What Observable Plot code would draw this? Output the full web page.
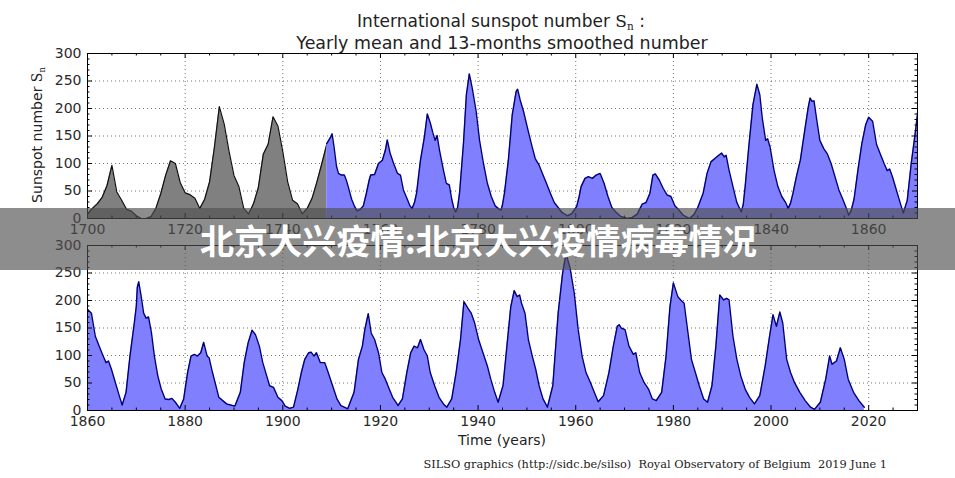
<!DOCTYPE html>
<html><head><meta charset="utf-8">
<script src="https://cdn.jsdelivr.net/npm/d3@7"></script>
<script src="https://cdn.jsdelivr.net/npm/@observablehq/plot@0.6"></script>
<style>
html,body{margin:0;padding:0;background:#fff;}
#chart{position:relative;width:955px;height:478px;overflow:hidden;background:#fff;}
#chart > svg{position:absolute;left:0;}
</style></head><body><div id="chart"></div>
<script>
// Yearly mean sunspot number (grey), 1700-1749
const grayYears = [1700,1701,1702,1703,1704,1705,1706,1707,1708,1709,1710,1711,1712,1713,1714,1715,1716,1717,1718,1719,
  1720,1721,1722,1723,1724,1725,1726,1727,1728,1729,1730,1731,1732,1733,1734,1735,1736,1737,1738,1739,
  1740,1741,1742,1743,1744,1745,1746,1747,1748,1749];
const grayValues = [8.3,18.3,26.7,38.3,60.0,96.7,48.3,33.3,16.7,13.3,5.0,0.0,0.0,3.3,18.3,45.0,78.3,105.0,100.0,65.0,
  46.7,43.3,36.7,18.3,35.0,66.7,130.0,203.3,171.7,121.7,78.3,58.3,18.3,8.3,26.7,56.7,116.7,135.0,185.0,168.3,
  121.7,66.7,33.3,26.7,8.3,18.3,36.7,66.7,100.0,134.8];

// 13-month smoothed monthly sunspot number (blue)
const blueTimes = [1749.0,1749.8,1750.1,1750.5,1751.0,1751.4,1752.0,1752.6,1753.0,1753.4,1754.1,1754.6,1755.2,1755.8,1756.5,1757.1,1757.7,1758.0,1758.8,1759.6,
  1760.4,1761.0,1761.4,1762.0,1762.7,1763.5,1764.1,1764.7,1765.5,1766.0,1766.5,1767.0,1767.4,1768.2,1769.0,1769.6,1770.2,1770.7,1771.2,1771.6,
  1772.1,1772.9,1773.5,1774.1,1774.6,1775.0,1775.4,1775.8,1776.2,1777.0,1777.6,1778.2,1778.8,1779.6,1780.3,1781.1,1781.9,1782.7,1783.5,1784.3,
  1784.7,1785.0,1785.4,1786.2,1787.0,1787.8,1788.1,1788.6,1789.3,1790.1,1790.9,1791.7,1792.5,1793.3,1794.0,1794.8,1795.6,1796.4,1797.2,1798.3,
  1799.2,1800.2,1800.7,1801.1,1801.9,1802.6,1803.4,1804.2,1805.0,1805.8,1806.6,1807.4,1808.2,1809.2,1810.6,1811.6,1812.6,1813.6,1814.4,1815.2,
  1815.8,1816.3,1817.1,1817.9,1818.7,1819.5,1820.3,1821.0,1822.0,1823.3,1824.2,1825.0,1826.1,1826.9,1827.7,1828.5,1829.3,1829.9,1830.4,1830.8,
  1831.4,1832.2,1833.0,1833.9,1834.3,1834.7,1835.5,1836.3,1837.1,1837.7,1838.2,1838.9,1839.3,1839.8,1840.6,1841.4,1842.2,1843.0,1843.5,1844.0,
  1844.5,1845.2,1846.0,1846.8,1847.6,1848.0,1848.4,1848.8,1849.4,1850.0,1850.8,1851.5,1852.3,1853.1,1853.9,1854.7,1855.5,1855.9,1856.4,1857.0,
  1857.8,1858.6,1859.4,1860.0,1860.8,1861.6,1862.4,1863.2,1863.8,1864.3,1864.9,1865.7,1866.5,1867.1,1867.9,1868.7,1869.6,1870.0,1870.2,1870.5,1871.0,
  1871.5,1872.0,1872.5,1873.1,1873.7,1874.4,1875.1,1875.9,1876.7,1877.3,1878.0,1878.9,1879.7,1880.5,1881.2,1881.9,1882.5,1883.2,1883.8,1884.5,
  1884.9,1885.6,1886.3,1886.9,1887.7,1888.5,1889.3,1890.2,1891.3,1892.1,1892.9,1893.7,1894.4,1895.2,1895.9,1896.7,1897.3,1898.1,1899.0,1899.8,
  1900.5,1901.4,1902.2,1903.1,1903.8,1904.5,1905.3,1905.8,1906.4,1906.9,1907.7,1908.6,1909.3,1910.2,1911.1,1911.9,1912.6,1913.3,1914.6,1915.5,
  1916.3,1916.8,1917.5,1918.1,1918.8,1919.6,1920.3,1921.0,1921.8,1922.5,1923.4,1923.6,1924.5,1925.4,1926.2,1926.9,1927.6,1928.2,1928.9,1929.6,
  1930.2,1931.1,1932.0,1932.9,1933.6,1934.6,1935.5,1936.4,1937.1,1937.9,1938.6,1939.3,1940.1,1941.0,1941.9,1942.6,1943.4,1944.1,1945.1,1945.9,
  1946.7,1947.4,1948.0,1948.5,1948.9,1949.6,1950.3,1951.1,1951.8,1952.5,1953.3,1954.2,1955.3,1956.4,1957.3,1958.0,1958.8,1959.7,1960.5,1961.3,
  1962.1,1963.0,1963.8,1964.6,1965.7,1966.8,1967.7,1968.5,1968.9,1969.3,1970.1,1970.9,1971.8,1972.3,1973.1,1974.0,1974.9,1975.7,1976.5,1977.6,
  1978.5,1979.3,1980.0,1980.9,1981.5,1982.2,1982.9,1983.7,1984.5,1985.3,1986.2,1987.0,1987.9,1988.7,1989.5,1990.3,1990.9,1991.4,1992.2,1993.0,
  1993.8,1994.7,1995.6,1996.6,1997.7,1998.8,1999.7,2000.4,2001.1,2001.8,2002.4,2003.2,2004.0,2004.8,2005.9,2007.0,2008.1,2008.9,2010.1,2011.2,
  2012.0,2012.5,2013.4,2014.2,2015.0,2015.8,2016.9,2018.0,2019.1];
const blueValues = [136,148,154,130,95,82,79,79,70,58,35,24,14,16,23,45,70,79,80,100,
  106,124,143,118,100,82,79,52,35,24,18,30,46,106,148,190,174,157,142,151,
  124,88,64,61,35,20,12,20,46,136,225,263,237,195,142,100,64,40,23,17,
  15,25,46,106,189,231,235,216,195,165,136,109,97,79,64,46,29,20,11,5,
  9,22,40,58,73,76,73,79,82,64,40,20,12,4,0,2,8,26,29,46,
  79,81,70,55,43,40,23,17,6,0,7,20,46,82,103,109,115,119,112,115,
  88,58,29,12,25,58,136,207,244,225,183,142,145,130,88,58,40,29,18,28,
  46,76,106,154,201,219,213,214,177,142,127,118,100,76,52,35,17,6,14,35,
  88,136,171,184,177,135,117,99,87,90,75,51,27,10,33,99,160,190,224,234,207,
  177,168,170,141,99,63,39,21,20,22,15,4,21,69,99,102,99,105,124,99,
  96,69,45,24,18,12,10,8,33,87,123,146,138,117,87,63,45,42,24,18,
  8,4,6,39,69,93,105,106,99,105,87,87,69,45,21,9,6,3,33,93,
  117,147,176,141,129,105,69,57,39,24,12,9,21,69,105,117,114,129,111,99,
  69,45,24,12,6,21,69,129,198,186,177,159,129,105,81,57,33,15,45,117,
  189,218,207,210,195,177,129,99,75,45,21,6,45,177,249,285,261,213,147,99,
  69,51,33,16,27,69,117,153,156,150,147,117,102,105,69,51,39,21,18,33,
  99,189,232,207,201,195,147,93,69,45,21,15,45,117,210,201,204,201,135,93,
  63,39,24,12,27,81,135,174,153,179,159,93,69,51,33,18,6,2,15,57,
  99,84,90,114,93,57,33,18,6];

const yTicks = [0,50,100,150,200,250,300];
const yMinor = [10,20,30,40,60,70,80,90,110,120,130,140,160,170,180,190,210,220,230,240,260,270,280,290];
const topXTicks = [1700,1720,1740,1760,1780,1800,1820,1840,1860];
const bottomXTicks = [1860,1880,1900,1920,1940,1960,1980,2000,2020];

const grayData = grayYears.map((t, i) => ({t, v: grayValues[i]}));
const blueData = blueTimes.map((t, i) => ({t, v: blueValues[i]}));

const PH = 165, MT = 5, MB = 25, ML = 87, MR = 38, W = 955;
const chart = document.getElementById("chart");

function minorOf(domain) {
  const out = [];
  for (let t = domain[0]; t <= domain[1]; t += 5) if (t % 20 !== 0) out.push(t);
  return out;
}

function panel(domain, xTicks, topPx) {
  const xMinor = minorOf(domain);
  const inner = xTicks.filter(d => d > domain[0] && d < domain[1]);
  const innerY = yTicks.filter(d => d > 0 && d < 300);
  const svg = Plot.plot({
    width: W, height: MT + PH + MB,
    marginTop: MT, marginBottom: MB, marginLeft: ML, marginRight: MR,
    x: {domain, axis: null},
    y: {domain: [0, 300], axis: null},
    style: {background: "transparent", fontFamily: "'DejaVu Sans', sans-serif", fontSize: "14px", color: "#222", overflow: "visible"},
    marks: [
      Plot.ruleX(inner, {x: d => d, stroke: "#000", strokeOpacity: 0.55, strokeDasharray: "1,3"}),
      Plot.ruleY(innerY, {y: d => d, stroke: "#000", strokeOpacity: 0.55, strokeDasharray: "1,3"}),
      Plot.areaY(grayData, {x: "t", y: "v", fill: "#808080", clip: true}),
      Plot.lineY(grayData, {x: "t", y: "v", stroke: "#111", strokeWidth: 1.2, clip: true}),
      Plot.areaY(blueData, {x: "t", y: "v", fill: "#8080ff", clip: true}),
      Plot.lineY(blueData, {x: "t", y: "v", stroke: "#00007a", strokeWidth: 1.4, clip: true}),
      Plot.tickX(xTicks, {x: d => d, insetTop: PH - 5, stroke: "#000"}),
      Plot.tickX(xTicks, {x: d => d, insetBottom: PH - 5, stroke: "#000"}),
      Plot.tickX(xMinor, {x: d => d, insetTop: PH - 2.5, stroke: "#000"}),
      Plot.tickX(xMinor, {x: d => d, insetBottom: PH - 2.5, stroke: "#000"}),
      Plot.tickY(yTicks, {y: d => d, insetRight: (W - ML - MR) - 5, stroke: "#000"}),
      Plot.tickY(yTicks, {y: d => d, insetLeft: (W - ML - MR) - 5, stroke: "#000"}),
      Plot.tickY(yMinor, {y: d => d, insetRight: (W - ML - MR) - 2.5, stroke: "#000"}),
      Plot.tickY(yMinor, {y: d => d, insetLeft: (W - ML - MR) - 2.5, stroke: "#000"}),
      Plot.frame({stroke: "#000", strokeWidth: 1}),
      Plot.text(xTicks, {x: d => d, frameAnchor: "bottom", lineAnchor: "top", dy: 6, text: d => String(d), fill: "#2a2a2a", fontSize: 14}),
      Plot.text(yTicks, {y: d => d, frameAnchor: "left", textAnchor: "end", dx: -6, text: d => String(d), fill: "#2a2a2a", fontSize: 14})
    ]
  });
  svg.style.top = (topPx - MT) + "px";
  chart.appendChild(svg);
}

panel([1700, 1870], topXTicks, 53);
panel([1860, 2030], bottomXTicks, 245);

// overlay texts and banner
const ov = d3.select(chart).append("svg")
  .attr("width", W).attr("height", 478)
  .style("top", "0px").style("pointer-events", "none");

function fit(sel, target) {
  const w = sel.node().getComputedTextLength();
  const fs = parseFloat(sel.attr("font-size"));
  sel.attr("font-size", (fs * target / w).toFixed(2));
}

const sans = "'DejaVu Sans', sans-serif";
const t1 = ov.append("text").attr("x", 501).attr("y", 27).attr("text-anchor", "middle")
  .attr("font-family", sans).attr("font-size", 15).attr("fill", "#222");
t1.append("tspan").text("International sunspot number ");
t1.append("tspan").attr("font-family", "'DejaVu Serif', serif").text("S");
t1.append("tspan").attr("font-family", "'DejaVu Serif', serif").attr("font-size", "0.62em").attr("dy", "0.3em").text("n");
t1.append("tspan").attr("dy", "-0.2em").text(" :");
fit(t1, 288);

const t2 = ov.append("text").attr("x", 502).attr("y", 49).attr("text-anchor", "middle")
  .attr("font-family", sans).attr("font-size", 15).attr("fill", "#222")
  .text("Yearly mean and 13-months smoothed number");
fit(t2, 412);

const yl = ov.append("text").attr("transform", "translate(42,135) rotate(-90)").attr("text-anchor", "middle")
  .attr("font-family", sans).attr("font-size", 14).attr("fill", "#222");
yl.append("tspan").text("Sunspot number ");
yl.append("tspan").attr("font-family", "'DejaVu Serif', serif").text("S");
yl.append("tspan").attr("font-family", "'DejaVu Serif', serif").attr("font-size", "0.6em").attr("dy", "0.3em").text("n");
fit(yl, 136);

const xl = ov.append("text").attr("x", 502).attr("y", 444.5).attr("text-anchor", "middle")
  .attr("font-family", sans).attr("font-size", 14).attr("fill", "#222").text("Time (years)");
fit(xl, 88);

const cap = ov.append("text").attr("x", 887).attr("y", 468).attr("text-anchor", "end")
  .attr("font-family", "'DejaVu Serif', 'Liberation Serif', serif").attr("font-size", 12).attr("fill", "#222")
  .attr("xml:space", "preserve")
  .text("SILSO graphics (http://sidc.be/silso)  Royal Observatory of Belgium  2019 June 1");
cap.style("white-space", "pre");
fit(cap, 464);

ov.append("rect").attr("x", 0).attr("y", 208).attr("width", W).attr("height", 62)
  .attr("fill", "rgb(80,80,80)").attr("fill-opacity", 0.65);
const bt = ov.append("text").attr("x", 200).attr("y", 254).attr("text-anchor", "start")
  .attr("font-family", "'Noto Sans CJK SC', sans-serif").attr("font-weight", 700)
  .attr("font-size", 32).attr("fill", "#fff")
  .text("北京大兴疫情:北京大兴疫情病毒情况");
fit(bt, 557);
</script></body></html>
